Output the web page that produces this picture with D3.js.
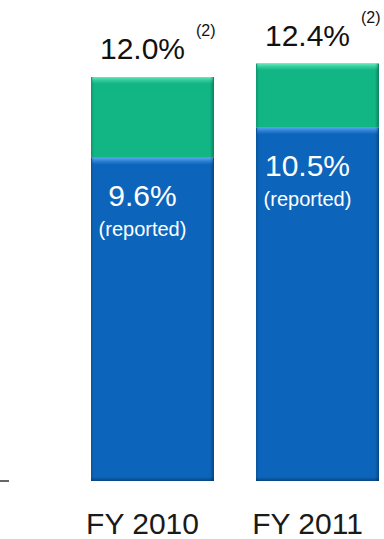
<!DOCTYPE html>
<html>
<head>
<meta charset="utf-8">
<script src="https://cdn.jsdelivr.net/npm/d3@7/dist/d3.min.js"></script>
<style>
  html, body { margin: 0; padding: 0; background: #ffffff; }
  svg { display: block; font-family: "Liberation Sans", Arial, sans-serif; }
</style>
</head>
<body>
<svg id="chart" width="384" height="539"></svg>
<script>
// Fiscal years on the x axis
const categories = ["FY 2010", "FY 2011"];
// Reported margin (blue, bottom segment)
const reported = [9.6, 10.5];
// Adjusted total margin (top of the green segment)
const adjusted = [12.0, 12.4];
// Footnote marker shown beside each total
const footnotes = ["(2)", "(2)"];

const svg = d3.select("#chart");

const baseY = 481;
const y = d3.scaleLinear().domain([0, 12]).range([baseY, 77]);
const x = d3.scaleBand().domain(categories).range([91, 379])
  .paddingInner(0.2545).paddingOuter(0);

const fmt = v => v.toFixed(1) + "%";

const defs = svg.append("defs");
function grad(id, horizontal, stops) {
  const g = defs.append("linearGradient").attr("id", id)
    .attr("x1", 0).attr("y1", 0)
    .attr("x2", horizontal ? 1 : 0).attr("y2", horizontal ? 0 : 1);
  stops.forEach(s => g.append("stop").attr("offset", s[0])
    .attr("stop-color", s[1]).attr("stop-opacity", s[2]));
}
grad("hiGreen", false, [[0, "#6ff0c4", 0.9], [1, "#3fd9a6", 0]]);
grad("hiBlue", false, [[0, "#5aa6f0", 1], [1, "#3a8ee2", 0]]);
grad("edgeL", true, [[0, "#000", 0.18], [1, "#000", 0]]);
grad("edgeR", true, [[0, "#000", 0], [1, "#000", 0.3]]);
grad("edgeB", false, [[0, "#000", 0], [1, "#000", 0.3]]);

const segs = [];
categories.forEach((c, i) => {
  segs.push({ cat: c, y0: 0, y1: reported[i], fill: "#0c65bb", hi: "url(#hiBlue)" });
  segs.push({ cat: c, y0: reported[i], y1: adjusted[i], fill: "#12b584", hi: "url(#hiGreen)" });
});

const g = svg.append("g");
const seg = g.selectAll("g.seg").data(segs).join("g").attr("class", "seg");

seg.append("rect")
  .attr("x", d => x(d.cat)).attr("width", x.bandwidth())
  .attr("y", d => y(d.y1)).attr("height", d => y(d.y0) - y(d.y1))
  .attr("fill", d => d.fill);
// bevel highlight along the top of each segment
seg.append("rect")
  .attr("x", d => x(d.cat) + 1).attr("width", x.bandwidth() - 2)
  .attr("y", d => y(d.y1)).attr("height", 7)
  .attr("fill", d => d.hi);
// darker side edges
seg.append("rect")
  .attr("x", d => x(d.cat)).attr("width", 3)
  .attr("y", d => y(d.y1)).attr("height", d => y(d.y0) - y(d.y1))
  .attr("fill", "url(#edgeL)");
seg.append("rect")
  .attr("x", d => x(d.cat) + x.bandwidth() - 4).attr("width", 4)
  .attr("y", d => y(d.y1)).attr("height", d => y(d.y0) - y(d.y1))
  .attr("fill", "url(#edgeR)");
// bottom shading of the stack
g.selectAll("rect.bot").data(categories).join("rect").attr("class", "bot")
  .attr("x", d => x(d)).attr("width", x.bandwidth())
  .attr("y", y(0) - 4).attr("height", 4)
  .attr("fill", "url(#edgeB)");

// short baseline stub at the left
svg.append("line")
  .attr("x1", 0).attr("x2", 9).attr("y1", y(0)).attr("y2", y(0))
  .attr("stroke", "#333").attr("stroke-width", 1.5);

const dx = -10;
const cx = c => x(c) + x.bandwidth() / 2 + dx;

// totals above the bars, with footnote markers
categories.forEach((c, i) => {
  const t = svg.append("text")
    .attr("x", cx(c)).attr("y", y(adjusted[i]) - 18)
    .attr("text-anchor", "middle")
    .attr("font-size", 30).attr("fill", "#111")
    .text(fmt(adjusted[i]));
  const w = t.node().getComputedTextLength();
  svg.append("text")
    .attr("x", cx(c) + w / 2 + 11).attr("y", y(adjusted[i]) - 18 - 23)
    .attr("font-size", 16).attr("fill", "#111")
    .text(footnotes[i]);

  svg.append("text")
    .attr("x", cx(c)).attr("y", y(reported[i]) + 48)
    .attr("text-anchor", "middle")
    .attr("font-size", 30).attr("fill", "#fff")
    .text(fmt(reported[i]));
  svg.append("text")
    .attr("x", cx(c)).attr("y", y(reported[i]) + 78)
    .attr("text-anchor", "middle")
    .attr("font-size", 20).attr("fill", "#fff")
    .text("(reported)");
});

// category labels
svg.selectAll("text.cat").data(categories).join("text").attr("class", "cat")
  .attr("x", d => cx(d)).attr("y", 534)
  .attr("text-anchor", "middle")
  .attr("font-size", 30).attr("fill", "#1a1a1a")
  .text(d => d);
</script>
</body>
</html>
